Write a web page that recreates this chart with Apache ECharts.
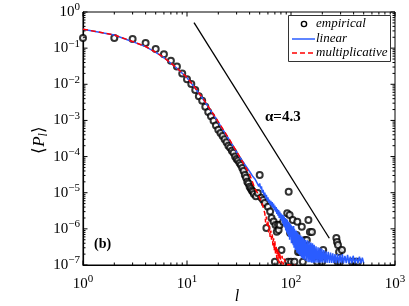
<!DOCTYPE html>
<html>
<head>
<meta charset="utf-8">
<script src="https://cdn.jsdelivr.net/npm/echarts@6/dist/echarts.min.js"></script>
<style>html,body{margin:0;padding:0;background:#fff;}#c{width:409px;height:306px;}</style>
</head>
<body>
<div id="c"></div>
<script>
// ---- data ----
const xTickValues = [1, 10, 100, 1000];
const yTickValues = [1e-7, 1e-6, 1e-5, 1e-4, 1e-3, 1e-2, 1e-1, 1];

const empirical = [
  [1,0.19],[2,0.19],[3,0.18],[4,0.139],[5,0.095],[6,0.068],[7,0.045],[8,0.031],[9,0.020],[10,0.0138],
  [11,0.0102],[12,0.0069],[13,0.0047],[14,0.0035],[15,0.0024],[16,0.0017],[17,0.0013],[18,0.00098],[19,0.00072],[20,0.00055],
  [21,0.00045],[22,0.00037],[23,0.0003],[24,0.00025],[25,0.0002],[26,0.000175],[27,0.000145],[28,0.000128],[29,0.0001],[30,0.000085],
  [31,0.000078],[32,0.000066],[33,0.000058],[34,0.000048],[35,0.00004],[36,0.000031],[37,0.000026],[38,0.00002],[39,0.000018],[40,0.0000147],
  [41,0.000013],[42,0.0000115],[43,0.0000107],[44,0.0000092],[46,0.000008],[48,0.0000098],[50,0.000031],[52,0.0000072],[54,0.0000063],[56,0.0000052],
  [58,0.00000105],[60,0.0000041],[63,0.000003],[65,0.000002],[68,0.0000016],[70,1.23e-7],[71,1.28e-6],[73,8.3e-7],[75,1.3e-6],[76,9.3e-7],
  [78,1.28e-6],[81,2.6e-7],[84,1.58e-6],[92,2.7e-6],[94,1.23e-7],[95,1.07e-5],[97,2.4e-6],[98,7.7e-7],[100,1.23e-7],[104,1.76e-6],
  [108,1.23e-7],[109,4.9e-7],[113,6.8e-7],[115,1.58e-6],[117,2.3e-7],[122,2.3e-7],[127,1.15e-6],[130,1.23e-7],[136,4.9e-7],[142,4.9e-7],
  [147,1.75e-6],[152,8.2e-7],[159,8.2e-7],[178,1.23e-7],[199,1.23e-7],[204,2.6e-7],[273,5.6e-7],[277,4.3e-7],[280,1.23e-7],[283,3.6e-7],
  [290,2.3e-7],[296,1.23e-7],[309,2.6e-7],[386,1.23e-7],[412,1.23e-7],[440,1.23e-7]
];

const linear = [
  [1,0.332],[2,0.231],[3,0.151],[4,0.110],[5,0.0768],[6,0.0544],[7,0.0381],[8,0.0277],[10,0.0152],[12,0.00774],
  [14.25,0.00392],[18.6,0.00124],[25.9,0.00027],[32.3,0.000094],[40.3,0.0000374],
  [42,3.3e-5],[43,2.8e-5],[44,3.0e-5],[45,2.4e-5],[46,2.6e-5],[47,1.9e-5],[48,2.1e-5],[49,1.5e-5],[50,1.8e-5],[51,1.3e-5],
  [52,1.5e-5],[53,1.0e-5],[54,1.2e-5],[55,8.5e-6],[56,1.0e-5],[57,7.0e-6],[58,8.8e-6],[59,6.0e-6],[60,7.5e-6],[61,5.2e-6],
  [62,6.5e-6],[63,4.6e-6],[64,6.0e-6],[65,4.2e-6],[66,5.5e-6],[67,3.8e-6],[68,5.0e-6],[69,3.3e-6],[70,4.4e-6],[71,3.0e-6],
  [72,4.0e-6],[73,2.6e-6],[74,3.6e-6],[75,2.3e-6],[76,3.3e-6],[77,2.0e-6],[78,3.0e-6],[79,1.9e-6],[80,2.7e-6],[81,1.7e-6],
  [82,2.5e-6],[83,1.4e-6],[84,2.4e-6],[85,1.2e-6],[86,2.2e-6],[87,1.1e-6],[88,2.0e-6],[89,9e-7],[90,1.9e-6],[91,8e-7],
  [92,1.8e-6],[93,7e-7],[94,1.6e-6],[95,6e-7],[96,1.5e-6],[97,5e-7],[98,1.4e-6],[99,6e-7],[100,1.3e-6],[101,4e-7],
  [102,1.2e-6],[103,5e-7],[104,1.1e-6],[105,3.5e-7],[106,1.2e-6],[107,3e-7],[108,1.0e-6],[110,2.6e-7],[112,9e-7],[114,2.2e-7],
  [116,8e-7],[118,2.0e-7],[120,7e-7],[122,1.8e-7],[124,6.5e-7],[126,1.6e-7],[128,6e-7],[130,1.5e-7],[132,5.5e-7],[134,1.4e-7],
  [137,5e-7],[140,1.3e-7],[143,4.8e-7],[146,1.2e-7],[149,4.5e-7],[152,1.2e-7],[155,4.2e-7],[158,1.15e-7],[161,4e-7],[164,1.15e-7],
  [167,3.6e-7],[170,1.15e-7],[174,3.3e-7],[178,1.15e-7],[182,3.1e-7],[186,1.15e-7],[190,3e-7],[194,1.15e-7],[198,2.8e-7],[202,1.15e-7],
  [207,2.6e-7],[212,1.15e-7],[217,2.4e-7],[222,1.15e-7],[228,2.3e-7],[234,1.15e-7],[240,2.2e-7],[246,1.15e-7],[252,2.1e-7],[258,1.15e-7],
  [265,2.0e-7],[272,1.12e-7],[280,2.0e-7],[288,1.12e-7],[296,1.9e-7],[304,1.12e-7],[312,2.0e-7],[320,1.12e-7],[330,1.8e-7],[340,1.12e-7],
  [350,1.9e-7],[360,1.12e-7],[372,1.7e-7],[384,1.12e-7],[396,1.8e-7],[410,1.12e-7],[425,1.6e-7],[440,1.12e-7],[455,1.7e-7],[470,1.12e-7],
  [485,1.6e-7],[500,1.12e-7]
];

const multiplicative = [
  [1,0.335],[2,0.232],[3,0.152],[4,0.111],[5,0.077],[6,0.055],[7,0.0385],[8,0.028],[10,0.0155],[12,0.0079],
  [14.25,0.004],[18.6,0.00127],[25.9,0.00028],[32.3,0.000096],[36,0.000055],[40,0.000032],[45,1.3e-5],[48,9.6e-6],[50,7e-6],[52,5.6e-6],
  [54,4.0e-6],[56,2.7e-6],[57,1.5e-6],[58,2.2e-6],[59,1.2e-6],[60,1.6e-6],[61,8e-7],[62,1.2e-6],[63,6e-7],[64,9e-7],
  [65,5e-7],[66,7e-7],[67,3.5e-7],[68,5.5e-7],[69,2.5e-7],[70,4.5e-7],[71,2e-7],[72,3.5e-7],[73,1.5e-7],[74,3e-7],
  [75,1.3e-7],[76,2.5e-7],[77,1.1e-7],[78,2.2e-7],[80,1.05e-7],[82,1.8e-7],[84,1.02e-7],[86,1.5e-7],[90,1.02e-7],[100,1.02e-7],
  [110,1.01e-7]
];

const slopeLine = [[11.68, 0.506], [233.6, 5.5e-7]];
const slopeText = 'α=4.3';
const panelText = '(b)';
const legendNames = ['empirical', 'linear', 'multiplicative'];

// ---- chart ----
const SERIF = '"Liberation Serif","Times New Roman",serif';
const chart = echarts.init(document.getElementById('c'), null, {renderer: 'canvas'});

const minorX = [], minorY = [];
for (let k = 0; k < 3; k++) for (let m = 2; m <= 9; m++) minorX.push(m * Math.pow(10, k));
for (let k = -7; k < 0; k++) for (let m = 2; m <= 9; m++) minorY.push(m * Math.pow(10, k));

function expLabel(v) {
  const e = Math.round(Math.log10(v));
  return '{b|10}{s|' + (e < 0 ? '\u2212' + (-e) : e) + '}';
}
const richLab = {
  b: {fontFamily: SERIF, fontSize: 15, color: '#000', lineHeight: 20},
  s: {fontFamily: SERIF, fontSize: 11, color: '#000', lineHeight: 11, verticalAlign: 'top'}
};

const tickItems = [];
minorX.forEach(v => tickItems.push({value: [v, 1e-7], kind: 'x', len: 2.5}));
xTickValues.forEach(v => tickItems.push({value: [v, 1e-7], kind: 'x', len: 4.5}));
minorY.forEach(v => tickItems.push({value: [1, v], kind: 'y', len: 2.5}));
yTickValues.forEach(v => tickItems.push({value: [1, v], kind: 'y', len: 4.5}));

chart.setOption({
  animation: false,
  grid: {left: 83, right: 14, top: 12, bottom: 41, show: true, borderColor: '#000', borderWidth: 1, backgroundColor: '#fff'},
  xAxis: {
    type: 'log', logBase: 10, min: 1, max: 1000,
    axisLine: {show: true, onZero: false, lineStyle: {color: '#000', width: 1.2}},
    axisTick: {show: false},
    splitLine: {show: false},
    axisLabel: {margin: 9, formatter: expLabel, rich: richLab}
  },
  yAxis: {
    type: 'log', logBase: 10, min: 1e-7, max: 1,
    axisLine: {show: true, onZero: false, lineStyle: {color: '#000', width: 1.2}},
    axisTick: {show: false},
    splitLine: {show: false},
    axisLabel: {margin: 3, formatter: expLabel, rich: richLab}
  },
  series: [
    {
      type: 'custom', name: 'ticks', silent: true, clip: false, z: 10,
      data: tickItems,
      renderItem: function (params, api) {
        const item = tickItems[params.dataIndex];
        const v = item.value;
        const L = item.len;
        if (item.kind === 'x') {
          const b = api.coord([v[0], 1e-7]);
          const t = api.coord([v[0], 1]);
          return {type: 'group', children: [
            {type: 'line', shape: {x1: b[0], y1: b[1], x2: b[0], y2: b[1] - L}, style: {stroke: '#000', lineWidth: 1}},
            {type: 'line', shape: {x1: t[0], y1: t[1], x2: t[0], y2: t[1] + L}, style: {stroke: '#000', lineWidth: 1}}
          ]};
        } else {
          const l = api.coord([1, v[1]]);
          const r = api.coord([1000, v[1]]);
          return {type: 'group', children: [
            {type: 'line', shape: {x1: l[0], y1: l[1], x2: l[0] + L, y2: l[1]}, style: {stroke: '#000', lineWidth: 1}},
            {type: 'line', shape: {x1: r[0], y1: r[1], x2: r[0] - L, y2: r[1]}, style: {stroke: '#000', lineWidth: 1}}
          ]};
        }
      }
    },
    {
      type: 'scatter', name: legendNames[0], data: empirical, z: 3,
      symbol: 'emptyCircle', symbolSize: 6,
      itemStyle: {color: '#000', borderColor: '#000', borderWidth: 1.4}
    },
    {
      type: 'line', name: legendNames[1], data: linear, z: 4, symbol: 'none',
      lineStyle: {color: '#2a5cff', width: 1.5}
    },
    {
      type: 'line', name: legendNames[2], data: multiplicative, z: 5, symbol: 'none',
      lineStyle: {color: '#ff0000', width: 1.5, type: [5, 3]}
    },
    {
      type: 'line', name: 'slope', data: slopeLine, z: 5, symbol: 'none',
      lineStyle: {color: '#000', width: 1.3}
    }
  ],
  graphic: [
    {type: 'rect', shape: {x: 288.5, y: 15.5, width: 102, height: 46}, style: {fill: '#fff', stroke: '#333', lineWidth: 1}, z: 100},
    {type: 'circle', shape: {cx: 304, cy: 24, r: 2.6}, style: {fill: '#fff', stroke: '#000', lineWidth: 1.4}, z: 101},
    {type: 'text', x: 316, y: 24, style: {text: legendNames[0], font: 'italic 13px ' + SERIF, fill: '#000', verticalAlign: 'middle'}, z: 101},
    {type: 'line', shape: {x1: 292, y1: 39, x2: 315, y2: 39}, style: {stroke: '#2a5cff', lineWidth: 1.5}, z: 101},
    {type: 'text', x: 316, y: 39, style: {text: legendNames[1], font: 'italic 13px ' + SERIF, fill: '#000', verticalAlign: 'middle'}, z: 101},
    {type: 'line', shape: {x1: 292, y1: 53, x2: 315, y2: 53}, style: {stroke: '#ff0000', lineWidth: 1.5, lineDash: [5, 3]}, z: 101},
    {type: 'text', x: 316, y: 53, style: {text: legendNames[2], font: 'italic 13px ' + SERIF, fill: '#000', verticalAlign: 'middle'}, z: 101},
    {type: 'text', x: 265, y: 117, style: {text: slopeText, font: 'bold 15px ' + SERIF, fill: '#000', verticalAlign: 'middle'}, z: 101},
    {type: 'text', x: 94, y: 244, style: {text: panelText, font: 'bold 14px ' + SERIF, fill: '#000', verticalAlign: 'middle'}, z: 101},
    {type: 'text', x: 237, y: 297, style: {text: 'l', font: 'italic 16px ' + SERIF, fill: '#000', align: 'center', verticalAlign: 'middle'}, z: 101},
    {type: 'text', x: 40, y: 140, rotation: Math.PI / 2,
      style: {text: '{a|\u27E8}{p|P}{s|l}{a|\u27E9}', align: 'center', verticalAlign: 'middle',
        rich: {
          a: {fontFamily: SERIF, fontSize: 17, fill: '#000', lineHeight: 20},
          p: {fontFamily: SERIF, fontStyle: 'italic', fontSize: 17, fill: '#000', lineHeight: 20},
          s: {fontFamily: SERIF, fontStyle: 'italic', fontSize: 12, fill: '#000', lineHeight: 12, verticalAlign: 'bottom'}
        }}, z: 101}
  ]
});
</script>
</body>
</html>
